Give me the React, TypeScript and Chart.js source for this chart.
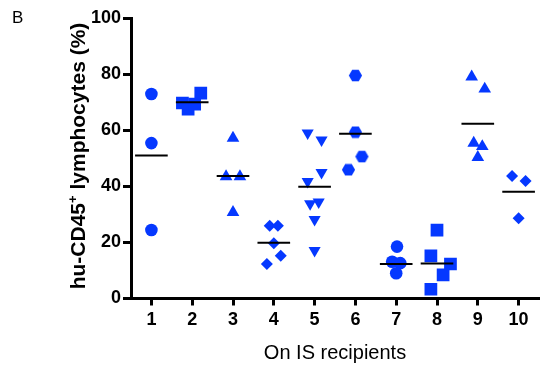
import React, { useEffect, useRef } from 'react';
import { Chart, registerables } from 'chart.js';

Chart.register(...registerables);

// ---- data ----
const recipients = [1, 2, 3, 4, 5, 6, 7, 8, 9, 10];
const yTicks = [0, 20, 40, 60, 80, 100];

const recipient1 = [{ x: 1.0, y: 72.9 }, { x: 1.0, y: 55.4 }, { x: 1.0, y: 24.4 }];
const recipient2 = [{ x: 1.76, y: 69.7 }, { x: 1.9, y: 67.5 }, { x: 2.06, y: 69.3 }, { x: 2.21, y: 73.2 }];
const recipient3 = [{ x: 3.0, y: 57.2 }, { x: 2.83, y: 43.5 }, { x: 3.17, y: 43.5 }, { x: 3.0, y: 30.7 }];
const recipient4 = [{ x: 3.9, y: 25.9 }, { x: 4.1, y: 25.9 }, { x: 4.0, y: 19.7 }, { x: 4.17, y: 15.2 }, { x: 3.83, y: 12.3 }];
const recipient5 = [
  { x: 4.83, y: 59.0 }, { x: 5.17, y: 56.5 }, { x: 5.17, y: 44.9 }, { x: 4.83, y: 41.7 },
  { x: 4.89, y: 33.8 }, { x: 5.1, y: 34.4 }, { x: 5.0, y: 28.2 }, { x: 5.0, y: 17.1 },
];
const recipient6 = [{ x: 6.0, y: 79.5 }, { x: 6.0, y: 59.3 }, { x: 6.16, y: 50.6 }, { x: 5.83, y: 45.9 }];
const recipient7 = [{ x: 7.02, y: 18.5 }, { x: 6.9, y: 13.1 }, { x: 7.1, y: 12.6 }, { x: 7.0, y: 9.0 }];
const recipient8 = [{ x: 8.0, y: 24.4 }, { x: 7.85, y: 15.2 }, { x: 8.33, y: 12.3 }, { x: 8.15, y: 8.4 }, { x: 7.85, y: 3.3 }];
const recipient9 = [{ x: 8.85, y: 79.0 }, { x: 9.17, y: 74.7 }, { x: 8.9, y: 55.4 }, { x: 9.11, y: 54.2 }, { x: 9.0, y: 50.3 }];
const recipient10 = [{ x: 9.84, y: 43.7 }, { x: 10.17, y: 41.9 }, { x: 10.0, y: 28.6 }];

const means = [51.0, 70.0, 43.7, 19.9, 39.8, 58.7, 12.3, 12.5, 62.3, 38.1];

const panelLabel = 'B';
const xTitle = 'On IS recipients';
const yTitleMain = 'hu-CD45';
const yTitleSup = '+';
const yTitleRest = ' lymphocytes (%)';

// ---- styling ----
const BLUE = '#0538FF';
const FONT = '"Liberation Sans", Arial, Helvetica, sans-serif';

function makeHexagon(r: number, color: string): HTMLCanvasElement {
  const c = document.createElement('canvas');
  const w = Math.ceil(2 * r) + 1;
  const h = Math.ceil(Math.sqrt(3) * r) + 1;
  c.width = w;
  c.height = h;
  const g = c.getContext('2d')!;
  g.fillStyle = color;
  g.beginPath();
  for (let i = 0; i < 6; i++) {
    const a = (Math.PI / 3) * i;
    const px = w / 2 + r * Math.cos(a);
    const py = h / 2 + r * Math.sin(a);
    if (i === 0) g.moveTo(px, py);
    else g.lineTo(px, py);
  }
  g.closePath();
  g.fill();
  return c;
}

const textPlugin = {
  id: 'customTexts',
  afterDraw(chart: any) {
    const ctx = chart.ctx as CanvasRenderingContext2D;
    const ca = chart.chartArea;
    ctx.save();
    ctx.fillStyle = '#000';
    ctx.textBaseline = 'alphabetic';

    ctx.font = `17px ${FONT}`;
    ctx.textAlign = 'left';
    ctx.fillText(panelLabel, 12, 23);

    ctx.font = `20px ${FONT}`;
    ctx.textAlign = 'center';
    ctx.fillText(xTitle, (ca.left + ca.right) / 2, 359);

    const mainFont = `bold 21px ${FONT}`;
    const supFont = `bold 13px ${FONT}`;
    ctx.font = mainFont;
    const w1 = ctx.measureText(yTitleMain).width;
    const w3 = ctx.measureText(yTitleRest).width;
    ctx.font = supFont;
    const w2 = ctx.measureText(yTitleSup).width;
    const total = w1 + w2 + w3;
    ctx.translate(85, 156);
    ctx.rotate(-Math.PI / 2);
    ctx.textAlign = 'left';
    const x0 = -total / 2;
    ctx.font = mainFont;
    ctx.fillText(yTitleMain, x0, 0);
    ctx.font = supFont;
    ctx.fillText(yTitleSup, x0 + w1, -8);
    ctx.font = mainFont;
    ctx.fillText(yTitleRest, x0 + w1 + w2, 0);
    ctx.restore();
  },
};

export default function App() {
  const ref = useRef<HTMLCanvasElement | null>(null);

  useEffect(() => {
    if (!ref.current) return;
    const hexagon = makeHexagon(6.6, BLUE);

    const groups = [
      { data: recipient1, style: 'circle', radius: 6.3, rotation: 0 },
      { data: recipient2, style: 'rect', radius: 9, rotation: 0 },
      { data: recipient3, style: 'triangle', radius: 7.3, rotation: 0 },
      { data: recipient4, style: 'rectRot', radius: 6, rotation: 0 },
      { data: recipient5, style: 'triangle', radius: 7, rotation: 180 },
      { data: recipient6, style: hexagon, radius: 6.6, rotation: 0 },
      { data: recipient7, style: 'circle', radius: 6.3, rotation: 0 },
      { data: recipient8, style: 'rect', radius: 9, rotation: 0 },
      { data: recipient9, style: 'triangle', radius: 7.3, rotation: 0 },
      { data: recipient10, style: 'rectRot', radius: 6, rotation: 0 },
    ];

    const markerSets = groups.map((g, i) => ({
      label: `Recipient ${recipients[i]}`,
      data: g.data,
      pointStyle: g.style as any,
      pointRadius: g.radius,
      pointRotation: g.rotation,
      backgroundColor: BLUE,
      borderColor: BLUE,
      borderWidth: 0,
      showLine: false,
      order: 1,
    }));

    const meanSets = means.map((m, i) => ({
      label: `Mean ${recipients[i]}`,
      data: [
        { x: recipients[i] - 0.4, y: m },
        { x: recipients[i] + 0.4, y: m },
      ],
      showLine: true,
      borderColor: '#000',
      borderWidth: 2,
      pointRadius: 0,
      fill: false,
      order: 0,
    }));

    const chart = new Chart(ref.current, {
      type: 'scatter',
      data: { datasets: [...markerSets, ...meanSets] as any },
      plugins: [textPlugin],
      options: {
        animation: false,
        responsive: false,
        maintainAspectRatio: false,
        layout: { padding: { top: 18, left: 0, right: 0, bottom: 0 } },
        plugins: {
          legend: { display: false },
          tooltip: { enabled: false },
        },
        scales: {
          x: {
            type: 'linear',
            min: 0.5,
            max: 10.5,
            afterBuildTicks: (axis: any) => {
              axis.ticks = recipients.map((v) => ({ value: v }));
            },
            afterFit: (scale: any) => {
              scale.height = 70.5;
            },
            border: { display: true, width: 3, color: '#000' },
            grid: {
              drawOnChartArea: false,
              drawTicks: true,
              tickLength: 7,
              tickWidth: 3,
              tickColor: '#000',
            },
            ticks: {
              color: '#000',
              font: { family: FONT, size: 18, weight: 'bold' },
              padding: 4,
              maxRotation: 0,
              autoSkip: false,
            },
          },
          y: {
            type: 'linear',
            min: 0,
            max: 100,
            afterBuildTicks: (axis: any) => {
              axis.ticks = yTicks.map((v) => ({ value: v }));
            },
            afterFit: (scale: any) => {
              scale.width = 131;
            },
            border: { display: true, width: 3, color: '#000' },
            grid: {
              drawOnChartArea: false,
              drawTicks: true,
              tickLength: 8,
              tickWidth: 3,
              tickColor: '#000',
            },
            ticks: {
              color: '#000',
              font: { family: FONT, size: 18, weight: 'bold' },
              padding: 2,
            },
          },
        },
      },
    });
    return () => chart.destroy();
  }, []);

  return (
    <div style={{ position: 'absolute', left: 0, top: 0, width: 548, height: 369, background: '#fff' }}>
      <canvas ref={ref} width={548} height={369} style={{ display: 'block', width: 548, height: 369 }} />
    </div>
  );
}
